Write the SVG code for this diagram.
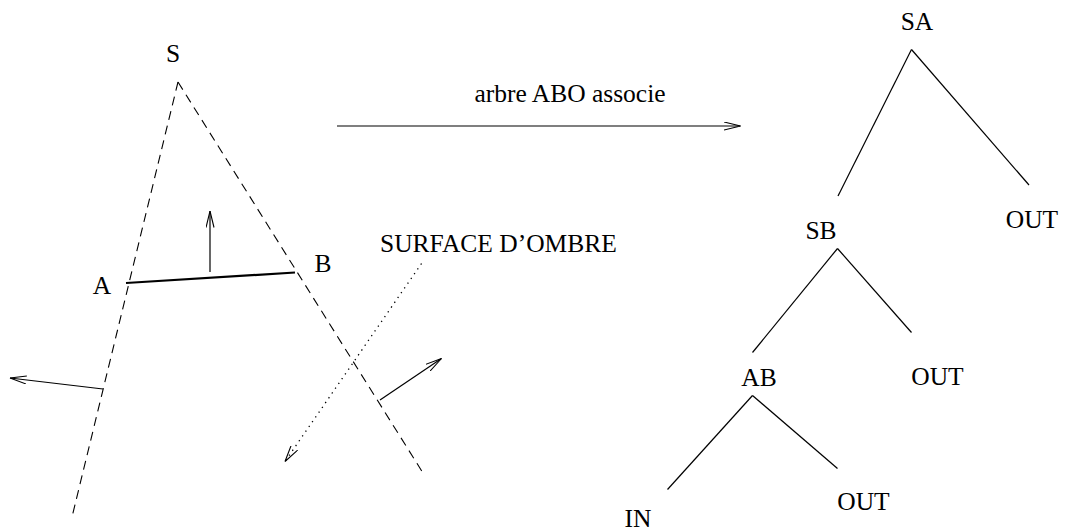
<svg xmlns="http://www.w3.org/2000/svg" width="1066" height="529" viewBox="0 0 1066 529">
<style>
.t{font-family:"Liberation Serif","Times New Roman",serif;font-size:25.5px;fill:#000;text-anchor:middle}
.ln{stroke:#000;stroke-width:1.2;fill:none}
.dash{stroke:#000;stroke-width:1.1;fill:none;stroke-dasharray:9 6}
.dot{stroke:#000;stroke-width:1.3;fill:none;stroke-dasharray:1.3 4.5}
</style>
<defs>
<marker id="ah" viewBox="0 0 17 9" refX="16.5" refY="4.5" markerWidth="17" markerHeight="9" markerUnits="userSpaceOnUse" orient="auto">
<path d="M0,0.5 L16.5,4.5 L0,8.5" fill="none" stroke="#000" stroke-width="1.1"/>
</marker>
</defs>
<rect width="1066" height="529" fill="#fff"/>
<g id="scene">
<line class="dash" x1="178" y1="82" x2="72" y2="517"/>
<line class="dash" x1="178" y1="82" x2="423" y2="473"/>
<line x1="126" y1="283" x2="295" y2="272.5" stroke="#000" stroke-width="2.2"/>
<line class="ln" x1="210" y1="272" x2="210" y2="211" marker-end="url(#ah)"/>
<line class="ln" x1="103" y1="389" x2="10" y2="378" marker-end="url(#ah)"/>
<line class="ln" x1="380" y1="400" x2="441.5" y2="358.5" marker-end="url(#ah)"/>
<line class="dot" x1="421.5" y1="263.5" x2="285" y2="461.5" marker-end="url(#ah)"/>
<text class="t" x="173" y="62">S</text>
<text class="t" x="102" y="294">A</text>
<text class="t" x="323" y="272">B</text>
<text class="t" x="380" y="252" style="text-anchor:start">SURFACE D’OMBRE</text>
</g>
<g id="connectors">
<g id="arrow-abo">
<line class="ln" x1="337" y1="126" x2="740.5" y2="126" marker-end="url(#ah)"/>
<text class="t" x="570" y="102">arbre ABO associe</text>
</g>
<line class="ln" x1="911.5" y1="49.5" x2="838" y2="196"/>
<line class="ln" x1="911.5" y1="49.5" x2="1029" y2="185"/>
<line class="ln" x1="837.5" y1="248.5" x2="752.5" y2="352.5"/>
<line class="ln" x1="837.5" y1="248.5" x2="911.5" y2="332.5"/>
<line class="ln" x1="752.5" y1="395.5" x2="667.5" y2="489.5"/>
<line class="ln" x1="752.5" y1="395.5" x2="837.5" y2="468.5"/>
</g>
<g id="node-SA"><text class="t" x="917" y="29.5">SA</text></g>
<g id="node-OUT1"><text class="t" x="1032" y="227.5">OUT</text></g>
<g id="node-SB"><text class="t" x="821" y="238.5">SB</text></g>
<g id="node-OUT2"><text class="t" x="937.5" y="385">OUT</text></g>
<g id="node-AB"><text class="t" x="759" y="385.5">AB</text></g>
<g id="node-OUT3"><text class="t" x="863.5" y="510">OUT</text></g>
<g id="node-IN"><text class="t" x="638" y="527">IN</text></g>
</svg>
